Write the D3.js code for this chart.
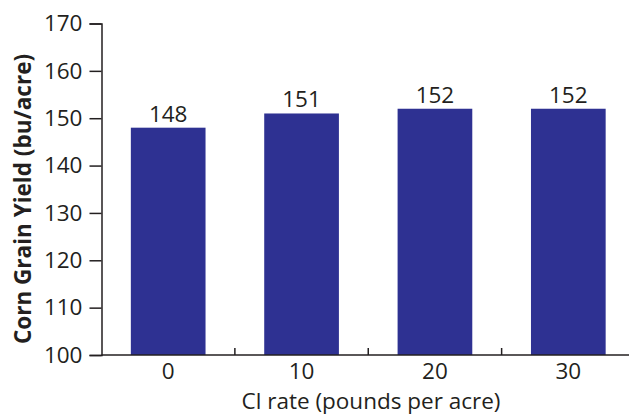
<!DOCTYPE html>
<html>
<head>
<meta charset="utf-8">
<script src="https://cdn.jsdelivr.net/npm/d3@7"></script>
<style>
  html, body { margin: 0; padding: 0; background: #ffffff; }
  svg { display: block; }
  text { font-family: "Open Sans", "Noto Sans", sans-serif; fill: #231f20; }
</style>
</head>
<body>
<svg id="chart" width="629" height="414"></svg>
<script>
// Chloride rate trial: corn grain yield by Cl rate
const rates = ["0", "10", "20", "30"];
const yields = [148, 151, 152, 152];
const yTicks = [100, 110, 120, 130, 140, 150, 160, 170];

const W = 629, H = 414;
const margin = { left: 101.5, top: 23.5, bottom: 355, right: 635 };
const ink = "#231f20";
const barColor = "#2e3192";
const numSize = 22.5;

const svg = d3.select("#chart");

const x = d3.scaleBand()
  .domain(rates)
  .range([margin.left, margin.right])
  .paddingInner(0.44)
  .paddingOuter(0.22);

const y = d3.scaleLinear()
  .domain([100, 170])
  .range([margin.bottom, margin.top]);

// bars
svg.append("g")
  .selectAll("rect")
  .data(yields)
  .join("rect")
  .attr("x", (d, i) => x(rates[i]))
  .attr("y", d => y(d))
  .attr("width", x.bandwidth())
  .attr("height", d => y(100) - y(d))
  .attr("fill", barColor);

// value labels
svg.append("g")
  .selectAll("text")
  .data(yields)
  .join("text")
  .attr("x", (d, i) => x(rates[i]) + x.bandwidth() / 2)
  .attr("y", d => y(d) - 6)
  .attr("text-anchor", "middle")
  .attr("font-size", numSize)
  .text(d => d);

// y axis
const yAxis = svg.append("g")
  .attr("transform", `translate(${margin.left},0)`)
  .call(d3.axisLeft(y).tickValues(yTicks).tickSize(12).tickPadding(7).tickSizeOuter(12));
yAxis.select(".domain").attr("stroke", ink).attr("stroke-width", 1.5);
yAxis.selectAll(".tick line").attr("stroke", ink).attr("stroke-width", 1.5);
yAxis.selectAll(".tick text")
  .attr("font-size", numSize)
  .attr("font-family", null)
  .attr("fill", ink);

// x axis: baseline with upward ticks at the category boundaries
const boundaries = rates.slice(1).map(r => x(r) - x.step() * x.paddingInner() / 2);
const xg = svg.append("g");
xg.append("line")
  .attr("x1", margin.left).attr("x2", margin.right)
  .attr("y1", y(100)).attr("y2", y(100))
  .attr("stroke", ink).attr("stroke-width", 1.5);
xg.selectAll("line.sep")
  .data(boundaries)
  .join("line")
  .attr("class", "sep")
  .attr("x1", d => d).attr("x2", d => d)
  .attr("y1", y(100)).attr("y2", y(100) - 7)
  .attr("stroke", ink).attr("stroke-width", 1.5);
xg.selectAll("text")
  .data(rates)
  .join("text")
  .attr("x", d => x(d) + x.bandwidth() / 2)
  .attr("y", 378.5)
  .attr("text-anchor", "middle")
  .attr("font-size", numSize)
  .text(d => d);

// axis titles
svg.append("text")
  .attr("x", 371)
  .attr("y", 408.5)
  .attr("text-anchor", "middle")
  .attr("font-size", 22.5)
  .text("Cl rate (pounds per acre)");

svg.append("text")
  .attr("transform", "translate(31,199) rotate(-90)")
  .attr("text-anchor", "middle")
  .attr("font-size", 22.5)
  .attr("font-weight", "bold")
  .text("Corn Grain Yield (bu/acre)");
</script>
</body>
</html>
